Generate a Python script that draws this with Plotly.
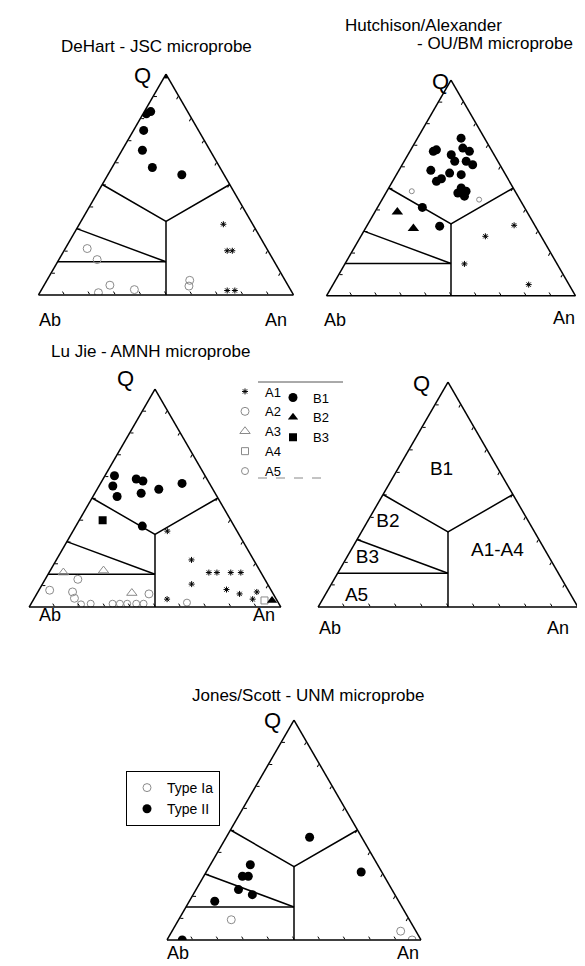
import plotly.graph_objects as go

W, H = 585, 966
FONT = "Liberation Sans"

# ---- data (percent Q and An, Ab = remainder) ----
# DeHart - JSC
dehart_fill_q = [100, 82, 83, 74.5, 65.5, 57.7, 54.4]
dehart_fill_an = [0, 1.3, 2.5, 4, 8, 15.8, 29]
dehart_open_q = [1, 4.4, 2.4, 21, 16, 6.6, 4]
dehart_open_an = [23, 25.8, 36.4, 8.6, 15, 56, 57]
dehart_star_q = [32, 20, 20, 2, 2]
dehart_star_an = [56.5, 64, 66, 73, 76]

# Hutchison/Alexander - OU/BM
hutch_fill_q = [73.1, 67, 67.7, 65.4, 68.5, 67, 62.4, 62.4, 60.8, 58.2,
                56.9, 54.3, 53.1, 56.2, 50, 48.5, 47.7, 46.2, 41, 32.3]
hutch_fill_an = [17.5, 9.4, 10.3, 17.4, 20.5, 23.9, 20.3, 24.9, 28.3, 12.8,
                 21, 19, 17.6, 26, 29.1, 31.8, 28.9, 32.3, 18, 29.3]
hutch_tri_q = [38.9, 31.2]
hutch_tri_an = [9, 19.3]
hutch_star_q = [32.7, 27.6, 14.8, 5.2]
hutch_star_an = [59, 50, 48, 78.6]
hutch_open_q = [48.5, 44.6]
hutch_open_an = [10, 39]

# Lu Jie - AMNH
lu_b1_q = [60.2, 58.7, 57.8, 55.5, 50.7, 52.2, 54, 56.7, 37.1]
lu_b1_an = [3.8, 13.2, 16.3, 5.5, 9.6, 18.4, 24.5, 32.4, 26.4]
lu_b2_q = [3]
lu_b2_an = [95]
lu_b3_q = [39.8]
lu_b3_an = [9.3]
lu_a1_q = [34.8, 21.6, 10.5, 15.8, 15.8, 15.8, 15.8, 8, 6, 6.9, 3.6, 3.6]
lu_a1_an = [37.5, 53.7, 59.3, 63.5, 66.7, 72.2, 76.2, 74.4, 80.6, 87, 87, 53]
lu_a2_q = [7.7, 6.9, 12.7, 6, 4]
lu_a2_an = [4.3, 13.8, 13, 44.6, 16]
lu_a3_q = [15.8, 16.7, 6.4]
lu_a3_an = [5.7, 21.2, 37.6]
lu_a4_q = [3]
lu_a4_an = [92]
lu_a5_q = [1.2, 1.5, 1.5, 1.5, 1.5, 1.5, 1.5, 2]
lu_a5_an = [20, 23.7, 32.4, 35.3, 38.2, 41.8, 44.7, 61.7]

# field names
field_labels = ["B1", "B2", "B3", "A5", "A1-A4"]
field_q = [61, 37.6, 21.8, 5, 25]
field_an = [17, 8.1, 8.1, 12.3, 56.5]

# Jones/Scott - UNM
js_ii_q = [46.7, 30.9, 34.2, 29, 29, 22.9, 20.6, 17.6, 0]
js_ii_an = [32.8, 61, 15.7, 15.2, 17.5, 16.7, 23.3, 10, 6]
js_ia_q = [9.2, 4, 0]
js_ia_an = [20.7, 90, 96.5]

# field boundaries (Q, An)
boundaries = [
    ([50, 100 / 3, 50], [0, 100 / 3, 50]),
    ([100 / 3, 0], [100 / 3, 50]),
    ([30, 15], [0, 42.5]),
    ([15, 15], [0, 42.5]),
]

# triangle boxes in px: left, right, apex y, base y
boxes = {
    "ternary": (30.5, 285.5, 66, 287),
    "ternary2": (318.5, 567.5, 72, 288),
    "ternary3": (21, 273, 381, 599),
    "ternary4": (310, 570, 374, 599),
    "ternary5": (159, 413, 712, 932),
}


def pts(q, an):
    return dict(a=q, b=[100 - x - y for x, y in zip(q, an)], c=an)


fig = go.Figure()

for sp in boxes:
    for q, an in boundaries:
        fig.add_trace(go.Scatterternary(**pts(q, an), subplot=sp, mode="lines",
                                        line=dict(color="black", width=1.5),
                                        showlegend=False, hoverinfo="skip"))

FILL = dict(color="black", size=9)
OPEN = dict(symbol="circle-open", color="#8a8a8a", size=8, line=dict(width=1))
STAR = dict(symbol="asterisk-open", color="black", size=5, line=dict(width=1, color="black"))


def add(q, an, sp, marker, name=None, legend=None):
    fig.add_trace(go.Scatterternary(**pts(q, an), subplot=sp, mode="markers",
                                    marker=marker, name=name,
                                    showlegend=name is not None,
                                    legend=legend or "legend"))


# panel 1
add(dehart_open_q, dehart_open_an, "ternary", OPEN)
add(dehart_star_q, dehart_star_an, "ternary", STAR)
add(dehart_fill_q, dehart_fill_an, "ternary", FILL)

# panel 2
add(hutch_open_q, hutch_open_an, "ternary2", dict(OPEN, size=5))
add(hutch_star_q, hutch_star_an, "ternary2", STAR)
add(hutch_fill_q, hutch_fill_an, "ternary2", FILL)
add(hutch_tri_q, hutch_tri_an, "ternary2", dict(symbol="triangle-up", color="black", size=10))

# panel 3
add(lu_a1_q, lu_a1_an, "ternary3", STAR, "A1", "legend")
add(lu_a2_q, lu_a2_an, "ternary3", OPEN, "A2", "legend")
add(lu_a3_q, lu_a3_an, "ternary3", dict(OPEN, symbol="triangle-up-open", size=9), "A3", "legend")
add(lu_a4_q, lu_a4_an, "ternary3", dict(OPEN, symbol="square-open", size=7), "A4", "legend")
add(lu_a5_q, lu_a5_an, "ternary3", dict(OPEN, size=7), "A5", "legend")
add(lu_b1_q, lu_b1_an, "ternary3", FILL, "B1", "legend2")
add(lu_b2_q, lu_b2_an, "ternary3", dict(symbol="triangle-up", color="black", size=9), "B2", "legend2")
add(lu_b3_q, lu_b3_an, "ternary3", dict(symbol="square", color="black", size=8), "B3", "legend2")

# panel 4 field names
fig.add_trace(go.Scatterternary(**pts(field_q, field_an), subplot="ternary4", mode="text",
                                text=field_labels, textfont=dict(size=19, color="black", family=FONT),
                                showlegend=False, hoverinfo="skip"))

# panel 5
add(js_ia_q, js_ia_an, "ternary5", OPEN, "Type Ia", "legend3")
add(js_ii_q, js_ii_an, "ternary5", FILL, "Type II", "legend3")


def axis():
    return dict(title=dict(text=""), showticklabels=False, showgrid=False,
                ticks="inside", ticklen=3, tickwidth=1.2, tickcolor="black",
                dtick=10, linecolor="black", linewidth=1.5, min=0)


for sp, (xl, xr, ya, yb) in boxes.items():
    fig.update_layout({sp: dict(
        domain=dict(x=[xl / W, xr / W], y=[1 - yb / H, 1 - ya / H]),
        sum=100, bgcolor="white",
        aaxis=axis(), baxis=axis(), caxis=axis())})

ann = []
titles = [("DeHart - JSC microprobe", 148, 38),
          ("Hutchison/Alexander", 415, 17),
          ("- OU/BM microprobe", 487, 35),
          ("Lu Jie - AMNH microprobe", 142, 343),
          ("Jones/Scott - UNM microprobe", 300, 687)]
for t, x, y in titles:
    ann.append(dict(text=t, x=x / W, y=1 - y / H, font=dict(size=17)))

corners = [
    [(134.5, 67), (42, 312), (268, 312)],
    [(432, 74), (327, 312), (556, 310)],
    [(117, 370), (42, 607), (256, 607)],
    [(413.5, 376), (322, 620), (550, 620)],
    [(264, 712), (170, 945), (400, 945)],
]
for (q, ab, an) in corners:
    ann.append(dict(text="Q", x=q[0] / W, y=1 - q[1] / H, font=dict(size=22)))
    ann.append(dict(text="Ab", x=ab[0] / W, y=1 - ab[1] / H, font=dict(size=18)))
    ann.append(dict(text="An", x=an[0] / W, y=1 - an[1] / H, font=dict(size=18)))

for a in ann:
    a.update(xref="paper", yref="paper", showarrow=False, xanchor="center", yanchor="middle")

fig.update_layout(
    width=W, height=H, margin=dict(l=0, r=0, t=0, b=0),
    paper_bgcolor="white", plot_bgcolor="white",
    font=dict(family=FONT, color="black"),
    annotations=ann,
    shapes=[
        dict(type="line", xref="paper", yref="paper", x0=250 / W, x1=335 / W,
             y0=1 - 374 / H, y1=1 - 374 / H, line=dict(color="#555", width=1)),
        dict(type="line", xref="paper", yref="paper", x0=250 / W, x1=322 / W,
             y0=1 - 470 / H, y1=1 - 470 / H, line=dict(color="#888", width=1, dash="dash")),
    ],
    legend=dict(x=217 / W, y=1 - 368.5 / H, xanchor="left", yanchor="top",
                bgcolor="rgba(0,0,0,0)", font=dict(size=13)),
    legend2=dict(x=265 / W, y=1 - 374.5 / H, xanchor="left", yanchor="top",
                 bgcolor="rgba(0,0,0,0)", font=dict(size=13)),
    legend3=dict(x=118 / W, y=1 - 763 / H, xanchor="left", yanchor="top",
                 bgcolor="white", bordercolor="black", borderwidth=1, font=dict(size=14)),
)

fig.write_html("out.html")
